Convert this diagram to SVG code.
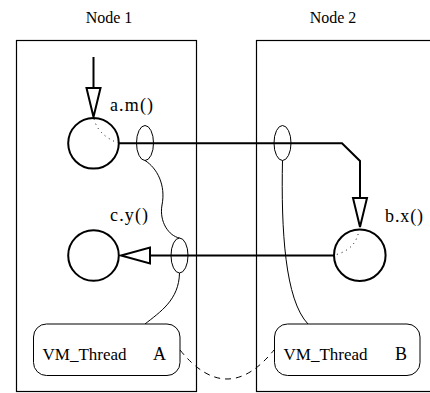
<svg xmlns="http://www.w3.org/2000/svg" width="430" height="393" viewBox="0 0 430 393">
<style>
.t{font-family:"Liberation Serif","Times New Roman",serif;fill:#000}
.node{fill:none;stroke:#000;stroke-width:1.2}
.m{fill:#fff;stroke:#000;stroke-width:2}
.e{fill:none;stroke:#000;stroke-width:1}
.thin{fill:none;stroke:#000;stroke-width:1}
.bold{fill:none;stroke:#000;stroke-width:2}
.dot{fill:none;stroke:#000;stroke-width:1;stroke-dasharray:1 4}
.dash{fill:none;stroke:#000;stroke-width:1;stroke-dasharray:6 5}
.head{fill:#fff;stroke:#000;stroke-width:2;stroke-linejoin:miter}
.vm{fill:#fff;stroke:#000;stroke-width:1}
</style>
<rect width="430" height="393" fill="#fff"/>
<g id="node1">
<rect class="node" x="16.5" y="40.5" width="180" height="351"/>
<text class="t" x="109" y="23" font-size="16" text-anchor="middle">Node 1</text>
</g>
<g id="node2">
<rect class="node" x="256.5" y="40.5" width="200" height="351"/>
<text class="t" x="333" y="23" font-size="16" text-anchor="middle">Node 2</text>
</g>
<g id="connectors">
<path class="thin" d="M145,160.5 C157,168 166,185 162,205 C159,222 169,236 179.5,238"/>
<path class="thin" d="M179.5,273 C179,300 160,312 145,324"/>
<path class="thin" d="M282.5,160.5 C281,230 285,300 308,324"/>
<path class="dash" d="M180,350 Q227,408 274,350"/>
<line class="bold" x1="93.5" y1="57" x2="93.5" y2="88"/>
<polygon class="head" points="86.5,88 100.5,88 93.5,117"/>
<path class="bold" d="M118.5,143.3 H342 L360,161 V198"/>
<polygon class="head" points="353,198 367,198 360,227"/>
<line class="bold" x1="334" y1="255.5" x2="150" y2="255.5"/>
<polygon class="head" points="150,247.5 150,263.5 121,255.5"/>
</g>
<g id="am">
<circle class="m" cx="93.5" cy="143.3" r="25.3"/>
<path class="dot" d="M94,119 Q98,135 118,143"/>
<text class="t" x="110" y="111" font-size="18" textLength="43" lengthAdjust="spacing">a.m()</text>
</g>
<g id="cy">
<circle class="m" cx="93.5" cy="255.5" r="25.3"/>
<text class="t" x="110" y="221" font-size="18" textLength="38" lengthAdjust="spacing">c.y()</text>
</g>
<g id="bx">
<circle class="m" cx="359.8" cy="255.3" r="25.8"/>
<path class="dot" d="M359,229 Q357,249 335,255"/>
<text class="t" x="385" y="222" font-size="18" textLength="38" lengthAdjust="spacing">b.x()</text>
</g>
<g id="ellipses">
<ellipse class="e" cx="145" cy="143" rx="8.5" ry="17.5"/>
<ellipse class="e" cx="179.5" cy="255.5" rx="8.5" ry="17.5"/>
<ellipse class="e" cx="282.5" cy="143" rx="8.5" ry="17.5"/>
</g>
<g id="threadA">
<rect class="vm" x="33.5" y="324" width="146.5" height="51.5" rx="13"/>
<text class="t" x="42.5" y="360" font-size="17">VM_Thread</text>
<text class="t" x="153" y="360" font-size="18">A</text>
</g>
<g id="threadB">
<rect class="vm" x="274.5" y="324" width="145.5" height="51.5" rx="13"/>
<text class="t" x="283.5" y="360" font-size="17">VM_Thread</text>
<text class="t" x="395" y="360" font-size="18">B</text>
</g>
</svg>
